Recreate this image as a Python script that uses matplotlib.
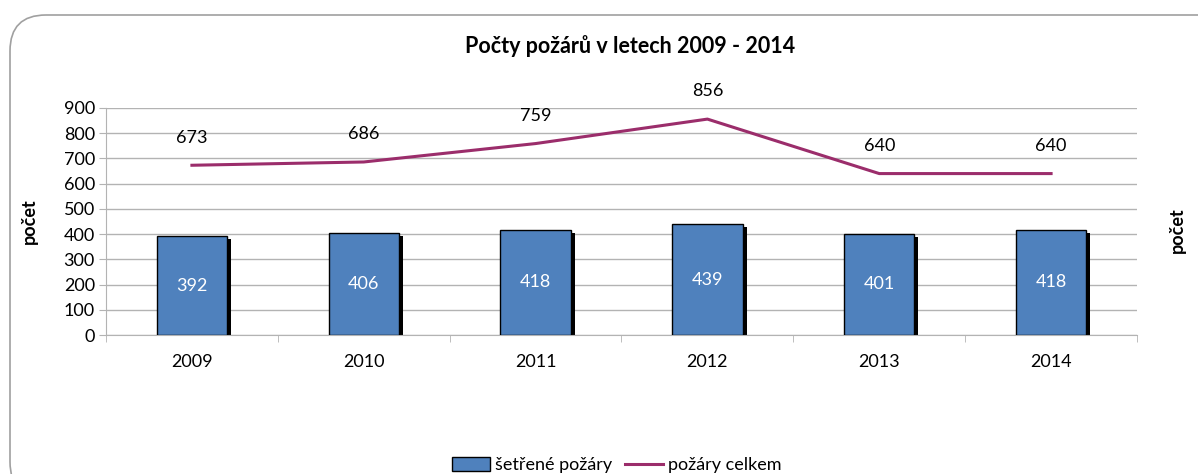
import matplotlib
matplotlib.use('Agg')
import matplotlib.pyplot as plt
from matplotlib.patches import FancyBboxPatch, Patch
from matplotlib.lines import Line2D
import numpy as np

plt.rcParams['font.family'] = ['Lato', 'DejaVu Sans']

years = ['2009', '2010', '2011', '2012', '2013', '2014']
setrene = [392, 406, 418, 439, 401, 418]
celkem = [673, 686, 759, 856, 640, 640]

bar_color = '#4F81BD'
line_color = '#9B2D6B'
grid_color = '#B3B3B3'
fs = 13

fig = plt.figure(figsize=(11.98, 4.74), dpi=100)

# rounded chart frame, partly outside the picture
frame = FancyBboxPatch((10 / 1198, -0.05), 1.05, 1 - 15 / 474 + 0.05,
                       boxstyle='round,pad=0,rounding_size=0.03',
                       transform=fig.transFigure, fc='none', ec='#A0A0A0',
                       lw=1.2, clip_on=False, mutation_aspect=1198 / 474, zorder=-1)
fig.patches.append(frame)

ax = fig.add_axes([106 / 1198, 1 - 335 / 474, (1137 - 106) / 1198, (335 - 108) / 474])
ax.set_facecolor('none')
x = np.arange(len(years))
w = 0.41

# shadow of bars
sx = 4 / 171.8
sy = 3 * 900 / 227
ax.bar(x + sx, np.array(setrene) - sy, w, color='black', zorder=2)
ax.bar(x, setrene, w, color=bar_color, edgecolor='black', lw=1.0, zorder=3)
for xi, v in zip(x, setrene):
    ax.text(xi, v / 2, str(v), ha='center', va='center', color='white', fontsize=fs, zorder=4)

ax.plot(x, celkem, color=line_color, lw=2.2, zorder=5)
for xi, v in zip(x, celkem):
    ax.text(xi, v + 110, str(v), ha='center', va='center', color='black', fontsize=fs, zorder=5)

ax.set_xlim(-0.5, len(years) - 0.5)
ax.set_ylim(0, 900)
ax.set_yticks(range(0, 901, 100))
ax.yaxis.grid(True, color=grid_color, lw=1)
ax.set_axisbelow(True)
ax.set_xticks(x)
ax.set_xticklabels(years)
ax.set_xticks(np.arange(-0.5, len(years)), minor=True)
ax.tick_params(axis='x', which='major', length=0, pad=14, labelsize=fs)
ax.tick_params(axis='x', which='minor', length=5, color=grid_color, direction='out')
ax.tick_params(axis='y', length=5, color=grid_color, labelsize=fs, pad=3)
for s in ['top', 'right']:
    ax.spines[s].set_visible(False)
for s in ['left', 'bottom']:
    ax.spines[s].set_color(grid_color)
ax.set_ylabel('počet', fontsize=fs, fontweight='bold')
ax.yaxis.set_label_coords(-68 / 1031, 0.5)

fig.text(1177 / 1198, 1 - 230 / 474, 'počet', rotation=90, ha='center', va='center',
         fontsize=fs, fontweight='bold')

fig.text(630 / 1198, 1 - 46 / 474, 'Počty požárů v letech 2009 - 2014', ha='center', va='center',
         fontsize=15.5, fontweight='bold')

handles = [Patch(fc=bar_color, ec='black', lw=1.0, label='šetřené požáry'),
           Line2D([0], [0], color=line_color, lw=2.2, label='požáry celkem')]
fig.legend(handles=handles, loc='center', bbox_to_anchor=(617 / 1198, 1 - 465 / 474), ncol=2,
           frameon=False, fontsize=fs, handlelength=2.1, handleheight=0.8, handletextpad=0.3,
           columnspacing=0.7, borderpad=0)

fig.savefig('out.png', dpi=100)
